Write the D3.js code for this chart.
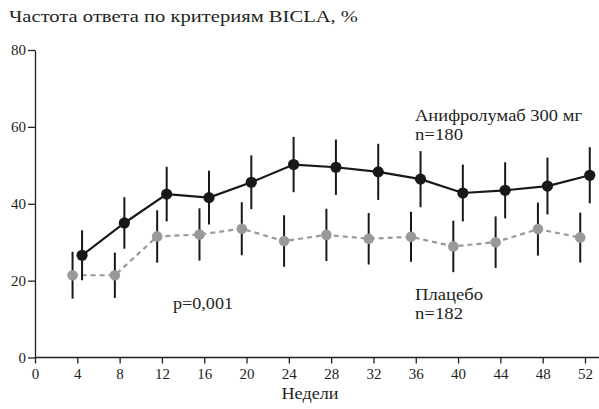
<!DOCTYPE html>
<html>
<head>
<meta charset="utf-8">
<script src="https://cdn.jsdelivr.net/npm/d3@7"></script>
<style>
  body { margin: 0; background: #fff; }
</style>
</head>
<body>
<div id="chart"></div>
<script>
// set up
const width = 599;
const height = 409;
const margin = { top: 50, right: 14, bottom: 52, left: 35 };
const serif = '"Liberation Serif", "Times New Roman", Times, "DejaVu Serif", serif';

// data
const weeks = [4, 8, 12, 16, 20, 24, 28, 32, 36, 40, 44, 48, 52];
const anifrolumab = [26.6, 35.0, 42.5, 41.6, 45.6, 50.2, 49.5, 48.3, 46.4, 42.8, 43.5, 44.6, 47.4];
const anifrolumabErr = [6.5, 6.7, 7.1, 7.0, 7.0, 7.2, 7.2, 7.3, 7.3, 7.4, 7.3, 7.4, 7.3];
const placebo = [21.4, 21.4, 31.5, 32.0, 33.5, 30.3, 31.9, 30.9, 31.4, 28.9, 30.0, 33.4, 31.2];
const placeboErr = [6.1, 5.9, 6.8, 6.8, 6.9, 6.7, 6.8, 6.7, 6.5, 6.7, 6.7, 6.9, 6.5];
const xTicks = [0, 4, 8, 12, 16, 20, 24, 28, 32, 36, 40, 44, 48, 52];
const yTicks = [0, 20, 40, 60, 80];

const ink = '#231f20';

const svg = d3.select('#chart')
  .append('svg')
  .attr('width', width)
  .attr('height', height);

// scales
const x = d3.scaleLinear()
  .domain([0, 52])
  .range([margin.left, 585]);

const y = d3.scaleLinear()
  .domain([0, 80])
  .range([357.5, margin.top]);

// axes
const xAxis = svg.append('g')
  .attr('transform', `translate(0,${y(0)})`)
  .call(d3.axisBottom(x).tickValues(xTicks).tickSize(6).tickSizeOuter(0).tickPadding(5));
xAxis.select('.domain').remove();
xAxis.append('line')
  .attr('x1', x(0)).attr('x2', x(54.4))
  .attr('stroke', ink).attr('stroke-width', 1.3);

const yAxis = svg.append('g')
  .attr('transform', `translate(${x(0)},0)`)
  .call(d3.axisLeft(y).tickValues(yTicks).tickSize(7).tickSizeOuter(0).tickPadding(2));

svg.selectAll('.tick line').attr('stroke', ink).attr('stroke-width', 1.3);
svg.selectAll('.tick text')
  .attr('fill', ink)
  .attr('font-size', '15px')
  .attr('font-family', serif);
yAxis.select('.domain').attr('stroke', ink).attr('stroke-width', 1.3);

// series
const series = [
  { values: placebo, err: placeboErr, color: '#999999', dash: '5,4', dx: -0.45, r: 5.3 },
  { values: anifrolumab, err: anifrolumabErr, color: '#1a1718', dash: null, dx: 0.45, r: 5.6 }
];

series.forEach(s => {
  const pts = weeks.map((w, i) => ({ w: w + s.dx, v: s.values[i], e: s.err[i] }));
  const g = svg.append('g');

  g.selectAll('line.err')
    .data(pts)
    .join('line')
      .attr('class', 'err')
      .attr('x1', d => x(d.w)).attr('x2', d => x(d.w))
      .attr('y1', d => y(d.v + d.e)).attr('y2', d => y(d.v - d.e))
      .attr('stroke', '#1a1718')
      .attr('stroke-width', 2);

  g.append('path')
    .datum(pts)
    .attr('fill', 'none')
    .attr('stroke', s.color)
    .attr('stroke-width', 2.2)
    .attr('stroke-dasharray', s.dash)
    .attr('d', d3.line().x(d => x(d.w)).y(d => y(d.v)));

  g.selectAll('circle')
    .data(pts)
    .join('circle')
      .attr('cx', d => x(d.w))
      .attr('cy', d => y(d.v))
      .attr('r', s.r)
      .attr('fill', s.color);
});

// labels (widths fitted to the reference)
const label = (tx, ty, str, len, anchor) => svg.append('text')
  .attr('x', tx).attr('y', ty)
  .attr('fill', ink)
  .attr('font-size', '16px')
  .attr('font-family', serif)
  .attr('text-anchor', anchor || 'start')
  .attr('textLength', len)
  .attr('lengthAdjust', 'spacingAndGlyphs')
  .text(str);

label(9, 22, 'Частота ответа по критериям BICLA, %', 349);
label(415, 121, 'Анифролумаб 300 мг', 167);
label(415, 140, 'n=180', 48);
label(415, 300, 'Плацебо', 68);
label(415, 319, 'n=182', 48);
label(173, 309, 'p=0,001', 60);
label(310, 399, 'Недели', 57, 'middle');
</script>
</body>
</html>
